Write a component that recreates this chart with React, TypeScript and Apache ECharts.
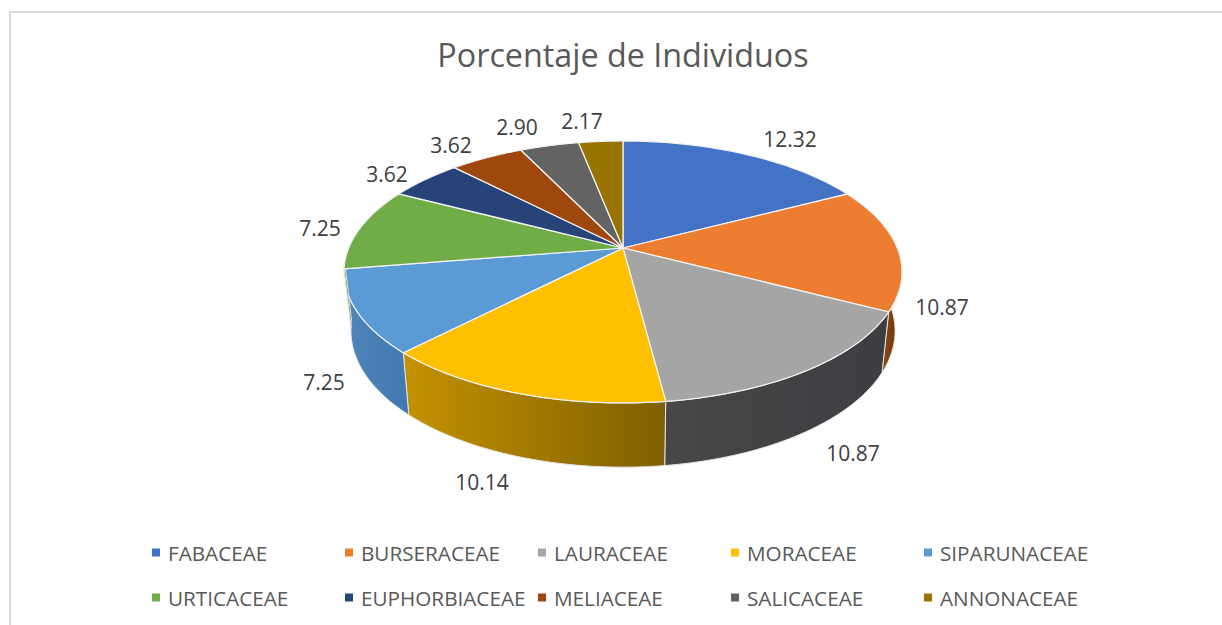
import React, { useEffect, useRef } from "react";
import * as echarts from "echarts";

const categories = ["FABACEAE", "BURSERACEAE", "LAURACEAE", "MORACEAE", "SIPARUNACEAE", "URTICACEAE", "EUPHORBIACEAE", "MELIACEAE", "SALICACEAE", "ANNONACEAE"];
const values = [12.32, 10.87, 10.87, 10.14, 7.25, 7.25, 3.62, 3.62, 2.9, 2.17];
const valueLabels = ["12.32", "10.87", "10.87", "10.14", "7.25", "7.25", "3.62", "3.62", "2.90", "2.17"];
const topColors = ["#4472C4", "#ED7D31", "#A5A5A5", "#FFC000", "#5B9BD5", "#70AD47", "#264478", "#9E480E", "#636363", "#997300"];
const wallLeft = ["#3A62A8", "#8A4A1A", "#474747", "#C49200", "#4F86BB", "#5F933C", "#1F3A66", "#863D0C", "#545454", "#826200"];
const wallRight = ["#2E4E86", "#6B3000", "#3C3E42", "#7F6000", "#4278B0", "#4D7A30", "#182D50", "#6B300A", "#444444", "#6A5000"];
const labelAnchors: number[][] = [[790, 139], [942, 307], [853, 453], [482, 482], [324, 382], [320, 228], [387, 174], [451, 145], [517, 127], [582, 121]];
const legendCols = [152, 345, 538, 731, 924];
const legendRows = [542, 587];

const CX = 623, CY = 248, A = 274.3, B = 126.6, K = 0.183;
const DEPTH_SX = 0.975, DEPTH_SY = 1.04, DEPTH_DY = 58;
const FONT = "'Open Sans', sans-serif";

const total = values.reduce((a, b) => a + b, 0);

function top(theta: number): number[] {
  const w = 1 + K * Math.cos(theta);
  return [CX + (A * Math.sin(theta)) / w, CY - (B * Math.cos(theta)) / w];
}
function bottom(theta: number): number[] {
  const p = top(theta);
  return [CX + (p[0] - CX) * DEPTH_SX, CY + (p[1] - CY) * DEPTH_SY + DEPTH_DY];
}

function renderSlice(index: number) {
  return (_params: any, api: any) => {
    const before = values.slice(0, index).reduce((a, b) => a + b, 0);
    const start = (before / total) * Math.PI * 2;
    const end = ((before + api.value(0)) / total) * Math.PI * 2;
    const n = 48;
    const rim: number[][] = [];
    for (let i = 0; i <= n; i++) rim.push(top(start + ((end - start) * i) / n));
    const children: any[] = [];
    // front wall: visible where the rim runs along the lower half
    const wStart = Math.max(start, 1.47);
    const wEnd = Math.min(end, 4.6);
    if (wEnd > wStart) {
      const upper: number[][] = [];
      const lower: number[][] = [];
      for (let i = 0; i <= n; i++) {
        const t = wStart + ((wEnd - wStart) * i) / n;
        upper.push(top(t));
        lower.push(bottom(t));
      }
      // walls run right-to-left as theta grows
      const grad = new echarts.graphic.LinearGradient(1, 0, 0, 0, [
        { offset: 0, color: wallRight[index] },
        { offset: 1, color: wallLeft[index] },
      ]);
      children.push({
        type: "polygon",
        shape: { points: upper.concat(lower.reverse()) },
        style: { fill: grad, stroke: "#E4E4E4", lineWidth: 1 },
      });
    }
    children.push({
      type: "polygon",
      shape: { points: [[CX, CY], ...rim] },
      style: { fill: topColors[index], stroke: "#F2F2F2", lineWidth: 1.25 },
    });
    children.push({
      type: "text",
      style: {
        x: labelAnchors[index][0],
        y: labelAnchors[index][1],
        text: valueLabels[index],
        fill: "#404040",
        font: `21px ${FONT}`,
        align: "center",
        verticalAlign: "middle",
      },
    });
    return { type: "group", children };
  };
}

export default function App() {
  const ref = useRef<HTMLDivElement>(null);
  useEffect(() => {
    document.body.style.margin = "0";
    const chart = echarts.init(ref.current!, null, { renderer: "svg" });
    chart.setOption({
      animation: false,
      backgroundColor: "#FFFFFF",
      title: {
        text: "Porcentaje de Individuos",
        left: 618,
        top: 33,
        textAlign: "center",
        textStyle: { fontFamily: FONT, fontSize: 32.3, fontWeight: "normal", color: "#595959" },
      },
      legend: categories.map((name, i) => ({
        data: [name],
        left: legendCols[i % 5],
        top: legendRows[Math.floor(i / 5)],
        icon: "rect",
        itemWidth: 8,
        itemHeight: 8,
        itemGap: 0,
        padding: 0,
        selectedMode: false,
        textStyle: { fontFamily: FONT, fontSize: 20.7, color: "#595959", padding: [0, 0, 0, 3] },
      })),
      graphic: [
        { type: "line", silent: true, shape: { x1: 10, y1: 12, x2: 1222, y2: 12 }, style: { stroke: "#D9D9D9", lineWidth: 2 } },
        { type: "line", silent: true, shape: { x1: 10, y1: 11, x2: 10, y2: 625 }, style: { stroke: "#D9D9D9", lineWidth: 2 } },
      ],
      series: categories.map((name, i) => ({
        type: "custom",
        name,
        coordinateSystem: "none",
        itemStyle: { color: topColors[i] },
        data: [[values[i]]],
        renderItem: renderSlice(i),
      })),
    });
    return () => chart.dispose();
  }, []);
  return <div ref={ref} style={{ width: 1222, height: 625 }} />;
}
